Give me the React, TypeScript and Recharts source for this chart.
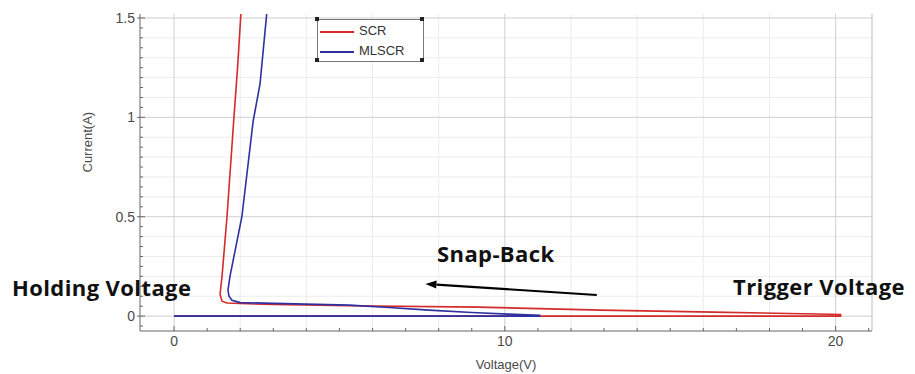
import React from 'react';
import { LineChart, Line, XAxis, YAxis, CartesianGrid, ReferenceLine } from 'recharts';

// SCR: forward sweep along 0 A up to trigger, then snap-back and the holding branch
const scrVoltage = [0, 20.15, 20.15, 19, 16.3, 12.9, 9.2, 5.3, 3, 2, 1.6, 1.45, 1.39, 1.45, 1.6, 1.81, 1.92, 2.02];
const scrCurrent = [0, 0, 0.008, 0.012, 0.02, 0.03, 0.045, 0.052, 0.058, 0.063, 0.066, 0.075, 0.11, 0.2, 0.5, 1.0, 1.25, 1.52];

// MLSCR
const mlscrVoltage = [0, 11.05, 11.05, 10.1, 9, 7.7, 6.5, 5.3, 3, 2, 1.75, 1.66, 1.63, 1.69, 2.05, 2.39, 2.6, 2.8];
const mlscrCurrent = [0, 0, 0.004, 0.01, 0.018, 0.03, 0.043, 0.055, 0.064, 0.068, 0.08, 0.1, 0.13, 0.2, 0.5, 0.98, 1.17, 1.52];

const xMajor = [0, 10, 20];
const xMinorGrid = [2, 4, 6, 8, 12, 14, 16, 18];
const xTicks = [0, 1, 2, 3, 4, 5, 6, 7, 8, 9, 10, 11, 12, 13, 14, 15, 16, 17, 18, 19, 20, 21];
const yMajor = [0, 0.5, 1, 1.5];
const yMinorGrid = [0.1, 0.2, 0.3, 0.4, 0.6, 0.7, 0.8, 0.9, 1.1, 1.2, 1.3, 1.4];
const yTicks = [-0.05, 0, 0.05, 0.1, 0.15, 0.2, 0.25, 0.3, 0.35, 0.4, 0.45, 0.5, 0.55, 0.6, 0.65, 0.7, 0.75, 0.8, 0.85, 0.9, 0.95, 1, 1.05, 1.1, 1.15, 1.2, 1.25, 1.3, 1.35, 1.4, 1.45, 1.5];

const zip = (xs: number[], ys: number[]) => xs.map((v, i) => ({ v, i: ys[i] }));
const scrData = zip(scrVoltage, scrCurrent);
const mlscrData = zip(mlscrVoltage, mlscrCurrent);

const RED = '#d42a2a';
const BLUE = '#2f2fa0';
const FONT = '"Liberation Sans", Arial, sans-serif';

const isMajor = (list: number[], v: number) => list.some((m) => Math.abs(m - v) < 1e-6);

const XTick = (props: any) => {
  const { x, y, payload } = props;
  const major = isMajor(xMajor, payload.value);
  return (
    <g>
      <line x1={x} x2={x} y1={y} y2={y - (major ? 5 : 3)} stroke="#666" />
      {major && (
        <text x={x} y={y + 15} textAnchor="middle" fill="#4a4a4a" fontSize={14} fontFamily={FONT}>
          {payload.value}
        </text>
      )}
    </g>
  );
};

const YTick = (props: any) => {
  const { x, y, payload } = props;
  const major = isMajor(yMajor, payload.value);
  return (
    <g>
      <line x1={x - (major ? 3 : 0)} x2={x + (major ? 5 : 3)} y1={y} y2={y} stroke="#666" />
      {major && (
        <text x={x - 5} y={y + 5} textAnchor="end" fill="#4a4a4a" fontSize={14} fontFamily={FONT}>
          {payload.value}
        </text>
      )}
    </g>
  );
};

const Arrow = (props: any) => {
  const { x1, y1, x2, y2 } = props;
  const a = Math.atan2(y2 - y1, x2 - x1);
  const len = 11;
  const w = 4;
  const bx = x2 - len * Math.cos(a);
  const by = y2 - len * Math.sin(a);
  const px = -Math.sin(a) * w;
  const py = Math.cos(a) * w;
  return (
    <g>
      <line x1={x1} y1={y1} x2={bx} y2={by} stroke="#000" strokeWidth={2.2} />
      <polygon points={`${x2},${y2} ${bx + px},${by + py} ${bx - px},${by - py}`} fill="#000" />
    </g>
  );
};

const LegendBox = () => (
  <div style={{ position: 'absolute', left: 317, top: 19, width: 107, height: 43, border: '1px solid #777', boxSizing: 'border-box', background: '#fff', fontFamily: FONT, fontSize: 13, color: '#333' }}>
    {[[-3, -3], [-3, 38], [102, -3], [102, 38]].map(([l, t], k) => (
      <div key={k} style={{ position: 'absolute', left: l, top: t, width: 4, height: 4, background: '#222' }} />
    ))}
    <div style={{ position: 'absolute', left: 2, top: 11, width: 34, height: 2, background: RED }} />
    <div style={{ position: 'absolute', left: 41, top: 3, lineHeight: '16px' }}>SCR</div>
    <div style={{ position: 'absolute', left: 2, top: 31, width: 34, height: 2, background: BLUE }} />
    <div style={{ position: 'absolute', left: 41, top: 23, lineHeight: '16px' }}>MLSCR</div>
  </div>
);

const note: React.CSSProperties = {
  position: 'absolute',
  fontFamily: '"Open Sans", "Noto Sans", sans-serif',
  fontWeight: 700,
  fontSize: 22,
  letterSpacing: 0.4,
  color: '#111',
  whiteSpace: 'nowrap',
  lineHeight: 1,
};

export default function App() {
  return (
    <div style={{ position: 'absolute', left: 0, top: 0, width: 915, height: 374, background: '#fff' }}>
      <LineChart width={915} height={374} margin={{ top: 14, right: 43, bottom: 13, left: 90 }}>
        <CartesianGrid stroke="#ececec" horizontalValues={yMinorGrid} verticalValues={xMinorGrid} />
        <CartesianGrid stroke="#cfcfcf" horizontalValues={yMajor} verticalValues={xMajor} />
        <XAxis
          type="number"
          dataKey="v"
          domain={[-1.03, 21.1]}
          ticks={xTicks}
          interval={0}
          tick={<XTick />}
          tickLine={false}
          tickSize={0}
          tickMargin={0}
          stroke="#666"
          height={30}
          allowDataOverflow
          label={{ value: 'Voltage(V)', position: 'insideBottom', offset: -8, fill: '#4a4a4a', fontSize: 13, fontFamily: FONT }}
        />
        <YAxis
          type="number"
          dataKey="i"
          domain={[-0.075, 1.52]}
          ticks={yTicks}
          interval={0}
          tick={<YTick />}
          tickLine={false}
          tickSize={0}
          tickMargin={0}
          stroke="#666"
          width={50}
          allowDataOverflow
          label={{ value: 'Current(A)', angle: -90, position: 'insideLeft', offset: -3, fill: '#4a4a4a', fontSize: 13, fontFamily: FONT }}
        />
        <ReferenceLine x={21.1} stroke="#bdbdbd" />
        <Line data={scrData} dataKey="i" name="SCR" stroke={RED} strokeWidth={1.6} dot={false} isAnimationActive={false} />
        <Line data={mlscrData} dataKey="i" name="MLSCR" stroke={BLUE} strokeWidth={1.6} dot={false} isAnimationActive={false} />
        <ReferenceLine
          segment={[{ x: 12.78, y: 0.106 }, { x: 7.6, y: 0.162 }]}
          shape={<Arrow />}
          ifOverflow="visible"
        />
      </LineChart>
      <LegendBox />
      <div style={{ ...note, left: 12, top: 276 }}>Holding Voltage</div>
      <div style={{ ...note, left: 437, top: 242 }}>Snap-Back</div>
      <div style={{ ...note, left: 733, top: 275 }}>Trigger Voltage</div>
    </div>
  );
}
